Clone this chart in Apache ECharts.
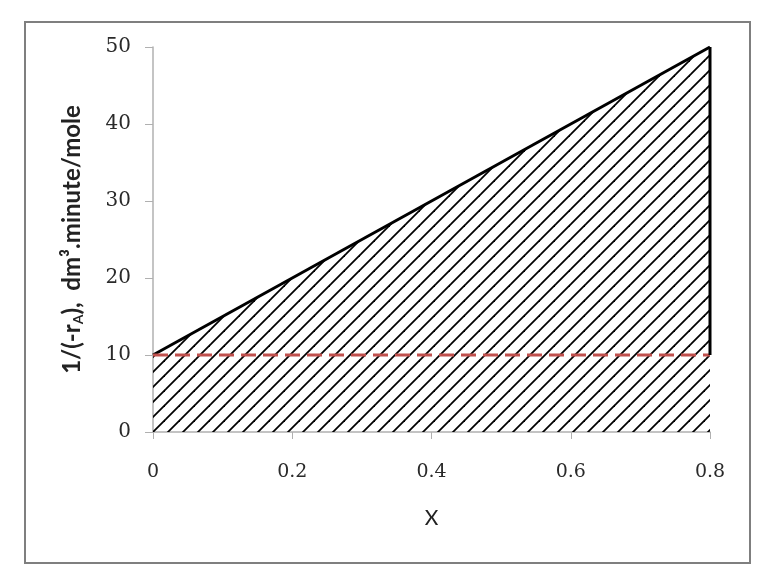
<!DOCTYPE html>
<head>
    <meta charset="utf-8">
    <title>1/(-rA) vs X</title>
    <script src="https://cdn.jsdelivr.net/npm/echarts@6/dist/echarts.min.js"></script>
</head>
<body style="margin:0;background:#fff">
    <div id="main" style="width:778px;height:588px"></div>
    <script type="text/javascript">
    // data
    var lineX = [0, 0.8];
    var lineY = [10, 50];
    var baseY = [10, 10];          // red dashed level
    var xTicks = ['0', '0.2', '0.4', '0.6', '0.8'];
    var yTicks = ['0', '10', '20', '30', '40', '50'];

    // hatch pattern for the area under the line
    function makeHatch(step) {
        var c = document.createElement('canvas');
        c.width = step; c.height = step;
        var g = c.getContext('2d');
        g.strokeStyle = '#000';
        g.lineWidth = 1.8;
        for (var k = -1; k <= 1; k++) {
            g.beginPath();
            g.moveTo(k * step - 1, step + 1);
            g.lineTo(k * step + step + 1, -1);
            g.stroke();
        }
        return c;
    }

    var mainLine = lineX.map(function (x, i) { return [x, lineY[i]]; });
    var dashLine = lineX.map(function (x, i) { return [x, baseY[i]]; });
    var rightEdge = [[lineX[1], baseY[1]], [lineX[1], lineY[1]]];

    var myChart = echarts.init(document.getElementById('main'));
    myChart.setOption({
        animation: false,
        grid: { left: 153, right: 68, top: 47, bottom: 156 },
        graphic: [{
            type: 'rect',
            shape: { x: 25, y: 22, width: 725, height: 541 },
            style: { fill: 'none', stroke: '#7f7f7f', lineWidth: 2 },
            z: -1
        }],
        xAxis: {
            type: 'value', min: 0, max: 0.8, interval: 0.2,
            name: 'X', nameLocation: 'middle', nameGap: 76,
            nameTextStyle: { fontFamily: 'Lato', fontSize: 21, color: '#222' },
            axisLine: { lineStyle: { color: '#b0b0b0', width: 1.5 } },
            axisTick: { show: true, length: 7, lineStyle: { color: '#b0b0b0' } },
            axisLabel: {
                margin: 31, fontFamily: 'DejaVu Serif', fontSize: 19, color: '#2a2a2a',
                formatter: function (v) { return xTicks[Math.round(v / 0.2)]; }
            },
            splitLine: { show: false }
        },
        yAxis: {
            type: 'value', min: 0, max: 50, interval: 10,
            name: '1/(-r{s|A}),  dm³.minute/mole', nameLocation: 'middle', nameGap: 68,
            nameRotate: 90,
            nameTextStyle: {
                fontFamily: 'Lato', fontWeight: 'bold', fontSize: 24, color: '#222',
                rich: { s: { fontFamily: 'Lato', fontWeight: 'bold', fontSize: 14, color: '#222', padding: [11, 0, 0, 0] } }
            },
            axisLine: { show: true, lineStyle: { color: '#b0b0b0', width: 1.5 } },
            axisTick: { show: true, length: 8, lineStyle: { color: '#b0b0b0' } },
            axisLabel: {
                margin: 22, fontFamily: 'DejaVu Serif', fontSize: 20, color: '#2a2a2a',
                formatter: function (v) { return yTicks[Math.round(v / 10)]; }
            },
            splitLine: { show: false }
        },
        series: [{
            type: 'line',
            data: mainLine,
            symbol: 'none',
            lineStyle: { color: '#000', width: 3 },
            areaStyle: { color: { image: makeHatch(15), repeat: 'repeat' }, opacity: 1, origin: 'start' },
            z: 2
        }, {
            type: 'line',
            data: dashLine,
            symbol: 'none',
            lineStyle: { color: '#c0504d', width: 2.8, type: [15, 7] },
            z: 3
        }, {
            type: 'line',
            data: rightEdge,
            symbol: 'none',
            lineStyle: { color: '#000', width: 3 },
            z: 4
        }]
    });
    </script>
</body>
